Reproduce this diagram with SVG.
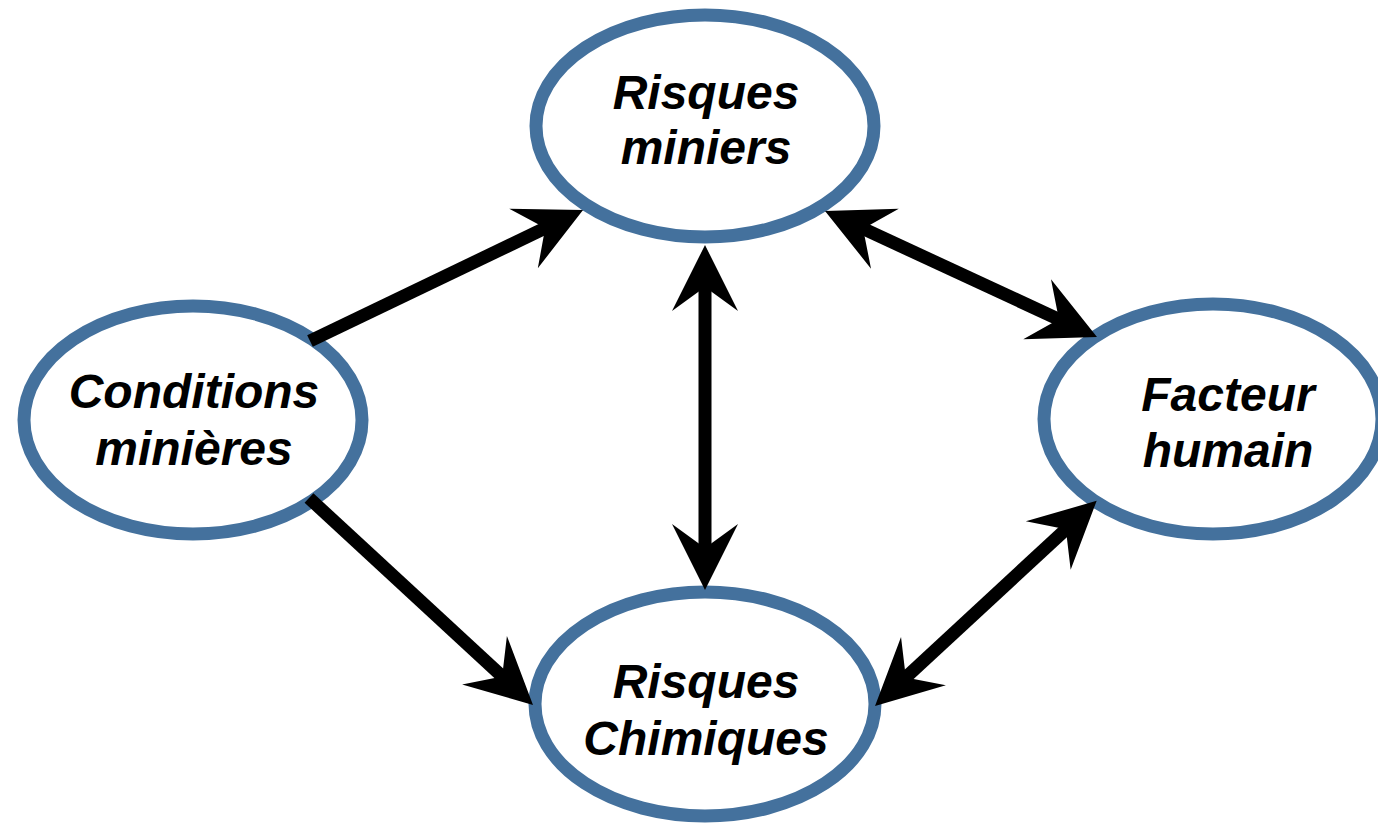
<svg xmlns="http://www.w3.org/2000/svg" width="1378" height="824" viewBox="0 0 1378 824">
<style>
.node ellipse{fill:#fff;stroke:#44719D;stroke-width:13}
.node text{font-family:"Liberation Sans",Arial,sans-serif;font-weight:bold;font-style:italic;font-size:48px;fill:#000;text-anchor:middle}
.conn path{fill:none;stroke:#000;stroke-width:13;stroke-linecap:butt}
</style>
<defs>
<marker id="ah" markerUnits="userSpaceOnUse" orient="auto-start-reverse" refX="0" refY="0" markerWidth="1" markerHeight="1" overflow="visible">
<path d="M26,0 L-40,-33 L-16,0 L-40,33 Z" fill="#000"/>
</marker>
</defs>
<rect width="1378" height="824" fill="#fff"/>
<g id="risques-miniers" class="node">
<ellipse cx="705" cy="126" rx="169" ry="111"/>
<text x="706" y="109">Risques</text>
<text x="706" y="164">miniers</text>
</g>
<g id="conditions-minieres" class="node">
<ellipse cx="193" cy="420" rx="169" ry="114"/>
<text x="194" y="408">Conditions</text>
<text x="194" y="465">minières</text>
</g>
<g id="facteur-humain" class="node">
<ellipse cx="1213" cy="419" rx="169" ry="115"/>
<text x="1228" y="411">Facteur</text>
<text x="1228" y="467">humain</text>
</g>
<g id="risques-chimiques" class="node">
<ellipse cx="705" cy="704" rx="170" ry="112"/>
<text x="706" y="698">Risques</text>
<text x="706" y="755">Chimiques</text>
</g>
<g id="connectors" class="conn">
<path d="M310,341 L559.6,221.2" marker-end="url(#ah)"/>
<path d="M309,498 L513.9,687.3" marker-end="url(#ah)"/>
<path d="M705,271 L705,564" marker-start="url(#ah)" marker-end="url(#ah)"/>
<path d="M848.6,221.9 L1073.4,326.1" marker-start="url(#ah)" marker-end="url(#ah)"/>
<path d="M894.1,688.3 L1077.6,518.4" marker-start="url(#ah)" marker-end="url(#ah)"/>
</g>
</svg>
